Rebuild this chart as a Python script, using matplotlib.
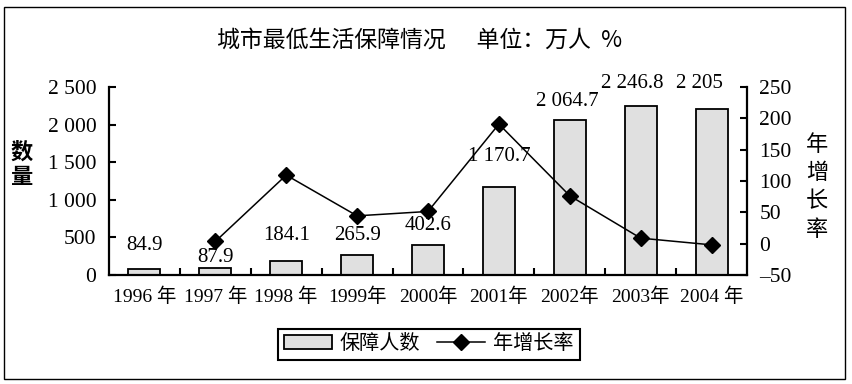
import matplotlib
matplotlib.use('Agg')
import matplotlib.pyplot as plt
from matplotlib.patches import Rectangle
from matplotlib.lines import Line2D

plt.rcParams['font.family'] = ['Liberation Serif', 'Noto Sans CJK SC']
plt.rcParams['axes.unicode_minus'] = False

years = ['1996 年', '1997 年', '1998 年', '1999年', '2000年', '2001年', '2002年', '2003年', '2004 年']
people = [84.9, 87.9, 184.1, 265.9, 402.6, 1170.7, 2064.7, 2246.8, 2205]
people_labels = ['84.9', '87.9', '184.1', '265.9', '402.6', '1 170.7', '2 064.7', '2 246.8', '2 205']
growth = [3.5, 109.4, 44.4, 51.4, 190.8, 76.4, 8.8, -1.9]  # 1997..2004
left_ticks = [0, 500, 1000, 1500, 2000, 2500]
left_ticklabels = ['0', '500', '1 000', '1 500', '2 000', '2 500']
right_ticks = [-50, 0, 50, 100, 150, 200, 250]
right_ticklabels = ['–50', '0', '50', '100', '150', '200', '250']

# label offsets above bar tops, in pixels (dx, dy)
label_dx = [0, 0, 0, 0, 0, 0, -2, -8, -12]
label_dy = [23, 11, 26, 20, 19, 30, 18, 23, 26]

fig = plt.figure(figsize=(8.52, 3.84), dpi=100)
ax = fig.add_axes([109 / 852, 1 - 275 / 384, 638 / 852, 188 / 384])
ax2 = ax.twinx()

x = list(range(len(years)))
ax.bar(x, people, width=0.45, color='#e0e0e0', edgecolor='black', linewidth=1.3, zorder=2)
for i, lab in enumerate(people_labels):
    ax.annotate(lab, (x[i], people[i]), xytext=(label_dx[i] * 0.72, label_dy[i] * 0.72),
                textcoords='offset points', ha='center', va='center', fontsize=15, zorder=3)

gx = x[1:]
ax2.plot(gx, growth, color='black', linewidth=1.1, marker='D', markersize=8,
         markerfacecolor='black', markeredgecolor='black')

ax.set_xlim(-0.5, len(years) - 0.5)
ax.set_ylim(0, 2500)
ax2.set_ylim(-50, 250)

ax.set_xticks([i + 0.5 for i in range(len(years) - 1)])
ax.set_xticklabels([])
ax.set_xticks(x, minor=True)
ax.set_xticklabels(years, minor=True, fontsize=14)
ax.tick_params(axis='x', which='major', direction='in', length=5, width=1.5)
ax.tick_params(axis='x', which='minor', length=0, pad=9)

ax.set_yticks(left_ticks)
ax.set_yticklabels(left_ticklabels, fontsize=15.5)
ax.tick_params(axis='y', direction='in', length=5, width=1.5, pad=9)
ax2.set_yticks(right_ticks)
ax2.set_yticklabels(right_ticklabels, fontsize=15.5)
ax2.tick_params(axis='y', direction='in', length=5, width=1.5, pad=9)

for a in (ax, ax2):
    a.spines['top'].set_visible(False)
ax.spines['right'].set_visible(False)
ax2.spines['left'].set_visible(False)
ax2.spines['bottom'].set_visible(False)
ax.spines['left'].set_linewidth(1.6)
ax.spines['bottom'].set_linewidth(1.6)
ax2.spines['right'].set_linewidth(1.6)

fig.text(0.493, 0.896, '城市最低生活保障情况      单位：万人  %', ha='center', va='center',
         fontsize=16.5, family=['Noto Sans CJK SC'], fontweight='medium')
fig.text(22 / 852, 1 - 165 / 384, '数\n量', ha='center', va='center', fontsize=16,
         family=['Noto Sans CJK SC'], fontweight='bold', linespacing=1.15)
fig.text(817 / 852, 1 - 187 / 384, '年\n增\n长\n率', ha='center', va='center', fontsize=16,
         family=['Noto Sans CJK SC'], fontweight='medium', linespacing=1.3)

handles = [Rectangle((0, 0), 1, 1, facecolor='#e0e0e0', edgecolor='black', linewidth=1.3),
           Line2D([], [], color='black', linewidth=1.1, marker='D', markersize=8)]
leg = fig.legend(handles, ['保障人数', '年增长率'], loc='center', ncol=2,
                 bbox_to_anchor=(0.503, 0.102), bbox_transform=fig.transFigure,
                 fontsize=14.5, handlelength=2.4, columnspacing=0.8, handletextpad=0.4,
                 fancybox=False, framealpha=1, borderpad=0.3)
leg.get_frame().set_edgecolor('black')
leg.get_frame().set_linewidth(1.5)

fig.patches.append(Rectangle((4 / 852, 5 / 384), 841 / 852, 372 / 384, transform=fig.transFigure,
                             fill=False, edgecolor='black', linewidth=1))

fig.savefig('out.png', dpi=100)
